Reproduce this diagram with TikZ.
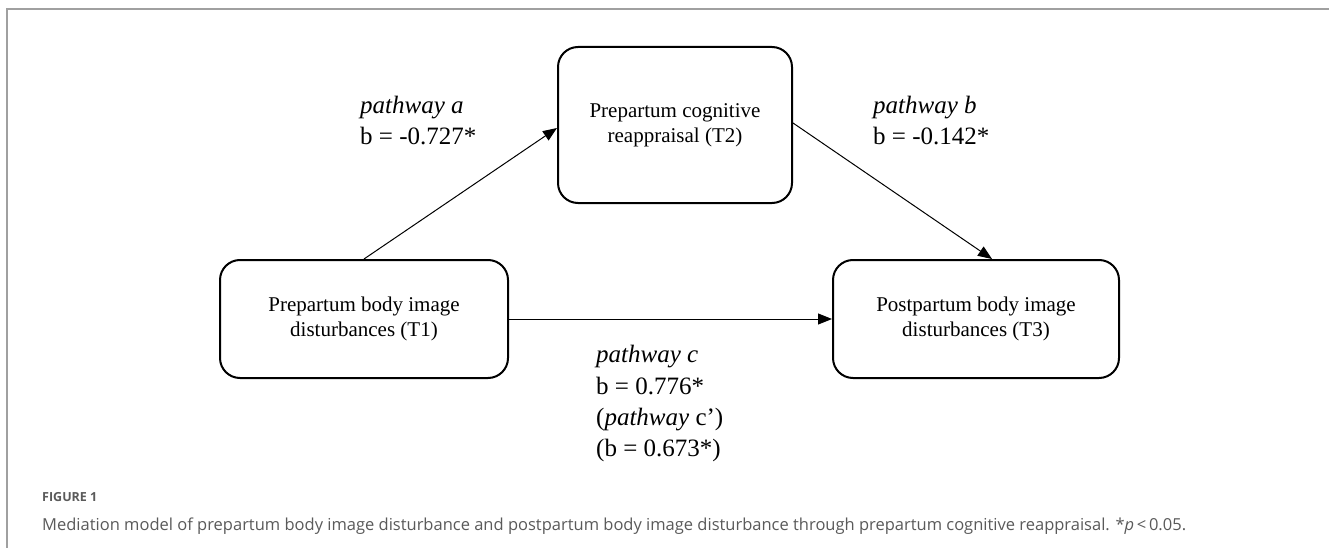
\documentclass[tikz,border=0pt]{standalone}
\usepackage{fontspec}
\setmainfont{Liberation Serif}
\newfontfamily\capfont{Open Sans}
\usetikzlibrary{arrows.meta}
\definecolor{framegray}{HTML}{A0A0A0}
\definecolor{capgray}{HTML}{5A5A5A}
\tikzset{
  box/.style={draw=black, line width=2pt, rounded corners=20pt, align=center,
    font=\fontsize{21}{25}\selectfont, inner sep=0pt},
  conn/.style={draw=black, line width=1pt, -{Triangle[length=14pt,width=11pt]}},
  lbl/.style={anchor=base west, inner sep=0pt, font=\fontsize{25}{30}\selectfont},
  capfig/.style={anchor=base west, inner sep=0pt, text=capgray, font=\capfont\bfseries\fontsize{12.5}{15}\selectfont},
  captext/.style={anchor=base west, inner sep=0pt, text=capgray, font=\capfont\fontsize{16.5}{20}\selectfont},
}
\begin{document}
\begin{tikzpicture}[x=1pt,y=-1pt]
\useasboundingbox (0,0) rectangle (1329,548);
\fill[white] (0,0) rectangle (1329,548);
% frame
\draw[framegray, line width=1.5pt] (7,548) -- (7,9) -- (1329,9);
% boxes
\node[box, minimum width=288pt, minimum height=118pt] (t1) at (364,319) {Prepartum body image\\disturbances (T1)};
\node[box, minimum width=234pt, minimum height=156pt] (t2) at (675,125) {Prepartum cognitive\\reappraisal (T2)};
\node[box, minimum width=286pt, minimum height=118pt] (t3) at (976,319) {Postpartum body image\\disturbances (T3)};
% connectors
\draw[conn] (t1.north) -- ([yshift=-3pt]t2.west);
\draw[conn] ([yshift=2pt]t2.east) -- ([xshift=16pt]t3.north);
\draw[conn] (t1.east) -- (t1.east -| t3.west);
% labels
\node[lbl] (la1) at (360,114) {\textit{pathway a}};
\node[lbl] (la2) at (360,145) {b = -0.727*};
\node[lbl] (lb1) at (873,114) {\textit{pathway b}};
\node[lbl] (lb2) at (873,145) {b = -0.142*};
\node[lbl] (lc1) at (596,362) {\textit{pathway c}};
\node[lbl] (lc2) at (596,394) {b = 0.776*};
\node[lbl] (lc3) at (596,425) {(\textit{pathway} c’)};
\node[lbl] (lc4) at (596,456) {(b = 0.673*)};
% caption
\node[capfig] (fig) at (42,501) {FIGURE 1};
\node[captext] (cap) at (42,530) {Mediation model of prepartum body image disturbance and postpartum body image disturbance through prepartum cognitive reappraisal. *\textit{p}\,<\,0.05.};
\end{tikzpicture}
\end{document}
